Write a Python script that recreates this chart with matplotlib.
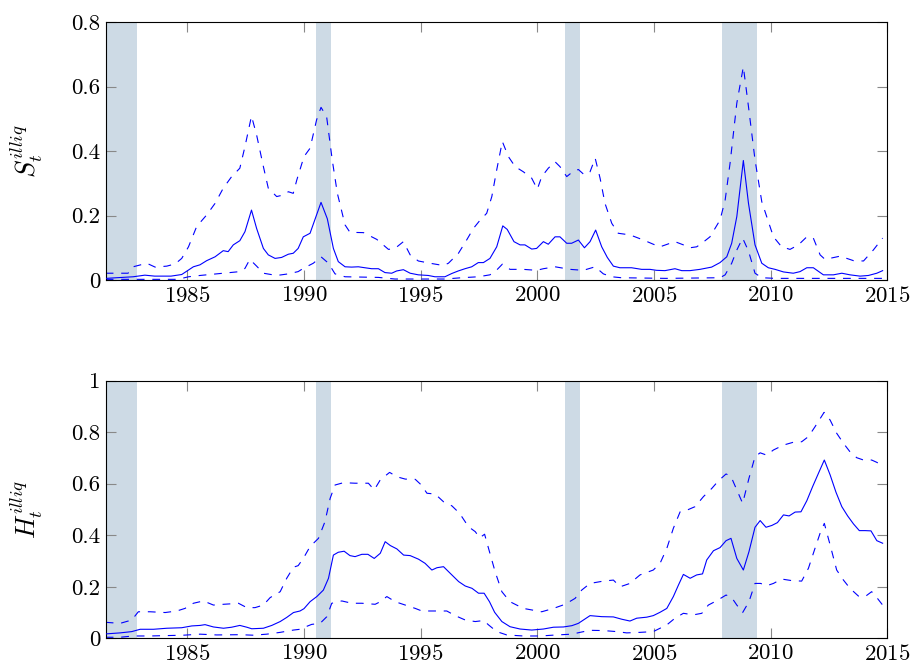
import matplotlib
matplotlib.use("Agg")
import matplotlib.pyplot as plt
from matplotlib.ticker import FuncFormatter
import numpy as np

plt.rcParams['font.family'] = 'cmr10'
plt.rcParams['mathtext.fontset'] = 'cm'
plt.rcParams['axes.formatter.use_mathtext'] = True

# NBER recessions (start, end)
recessions = [(1981.5, 1982.85), (1990.5, 1991.17), (2001.17, 2001.83), (2007.92, 2009.42)]

years = [1985, 1990, 1995, 2000, 2005, 2010, 2015]

# S_t^illiq : median and band (year, value)
s_mid = [(1981.5, 0.005), (1982.68, 0.01), (1983.18, 0.015), (1983.6, 0.012), (1984.3, 0.012),
         (1984.76, 0.017), (1985.26, 0.041), (1985.54, 0.047), (1985.83, 0.06), (1986.19, 0.072),
         (1986.54, 0.091), (1986.75, 0.088), (1986.97, 0.109), (1987.25, 0.122), (1987.47, 0.15),
         (1987.75, 0.217), (1987.97, 0.16), (1988.26, 0.098), (1988.47, 0.078), (1988.76, 0.067),
         (1989.04, 0.07), (1989.33, 0.08), (1989.54, 0.083), (1989.75, 0.098), (1989.97, 0.134),
         (1990.26, 0.145), (1990.73, 0.241), (1991.0, 0.19), (1991.26, 0.098), (1991.47, 0.057),
         (1991.76, 0.041), (1992.04, 0.04), (1992.33, 0.041), (1992.61, 0.038), (1992.9, 0.035),
         (1993.19, 0.035), (1993.47, 0.023), (1993.76, 0.021), (1993.97, 0.028), (1994.26, 0.032),
         (1994.55, 0.021), (1994.9, 0.016), (1995.33, 0.014), (1995.61, 0.01), (1996.04, 0.01),
         (1996.33, 0.02), (1996.61, 0.028), (1996.9, 0.035), (1997.19, 0.041), (1997.47, 0.054),
         (1997.69, 0.054), (1997.97, 0.067), (1998.26, 0.103), (1998.52, 0.168), (1998.71, 0.157),
         (1999.0, 0.119), (1999.26, 0.109), (1999.47, 0.109), (1999.76, 0.096), (1999.97, 0.098),
         (2000.26, 0.119), (2000.47, 0.111), (2000.76, 0.134), (2000.97, 0.134), (2001.26, 0.114),
         (2001.47, 0.114), (2001.76, 0.124), (2002.02, 0.1), (2002.26, 0.119), (2002.5, 0.155),
         (2002.76, 0.103), (2003.0, 0.07), (2003.26, 0.043), (2003.54, 0.038), (2004.04, 0.038),
         (2004.47, 0.033), (2004.83, 0.033), (2005.11, 0.03), (2005.47, 0.029), (2005.9, 0.035),
         (2006.19, 0.029), (2006.54, 0.029), (2006.97, 0.033), (2007.47, 0.04), (2007.83, 0.054),
         (2008.12, 0.072), (2008.33, 0.114), (2008.55, 0.197), (2008.83, 0.371), (2009.05, 0.238),
         (2009.33, 0.109), (2009.62, 0.052), (2009.9, 0.038), (2010.19, 0.033), (2010.55, 0.025),
         (2010.97, 0.021), (2011.26, 0.026), (2011.55, 0.038), (2011.83, 0.038), (2012.26, 0.016),
         (2012.69, 0.016), (2013.05, 0.021), (2013.4, 0.016), (2013.83, 0.012), (2014.19, 0.014),
         (2014.55, 0.021), (2014.8, 0.029)]

s_hi = [(1981.5, 0.021), (1982.46, 0.021), (1982.68, 0.041), (1983.26, 0.052), (1983.62, 0.04),
        (1984.12, 0.043), (1984.48, 0.05), (1984.76, 0.067), (1985.05, 0.103), (1985.4, 0.166),
        (1985.83, 0.202), (1986.19, 0.238), (1986.54, 0.285), (1986.9, 0.321), (1987.25, 0.347),
        (1987.47, 0.414), (1987.75, 0.509), (1987.97, 0.45), (1988.26, 0.352), (1988.47, 0.285),
        (1988.83, 0.259), (1989.12, 0.264), (1989.33, 0.274), (1989.54, 0.269), (1989.69, 0.31),
        (1990.0, 0.383), (1990.26, 0.409), (1990.54, 0.497), (1990.73, 0.536), (1990.97, 0.507),
        (1991.21, 0.373), (1991.43, 0.269), (1991.76, 0.171), (1991.97, 0.148), (1992.55, 0.147),
        (1993.12, 0.126), (1993.62, 0.095), (1993.9, 0.098), (1994.26, 0.119), (1994.55, 0.078),
        (1994.9, 0.059), (1995.4, 0.052), (1995.97, 0.045), (1996.19, 0.052), (1996.62, 0.083),
        (1996.97, 0.124), (1997.26, 0.16), (1997.55, 0.186), (1997.83, 0.207), (1998.05, 0.259),
        (1998.26, 0.342), (1998.5, 0.43), (1998.76, 0.383), (1999.05, 0.352), (1999.4, 0.336),
        (1999.76, 0.316), (2000.0, 0.282), (2000.19, 0.321), (2000.47, 0.347), (2000.76, 0.367),
        (2000.97, 0.352), (2001.26, 0.321), (2001.55, 0.338), (2001.76, 0.343), (2002.02, 0.326),
        (2002.26, 0.336), (2002.48, 0.378), (2002.69, 0.316), (2002.9, 0.238), (2003.19, 0.176),
        (2003.47, 0.145), (2003.97, 0.14), (2004.55, 0.124), (2004.97, 0.111), (2005.26, 0.103),
        (2005.69, 0.114), (2005.9, 0.119), (2006.26, 0.109), (2006.54, 0.1), (2006.83, 0.103),
        (2007.05, 0.114), (2007.4, 0.134), (2007.83, 0.186), (2008.05, 0.248), (2008.26, 0.362),
        (2008.55, 0.549), (2008.83, 0.662), (2009.05, 0.538), (2009.33, 0.373), (2009.62, 0.243),
        (2009.83, 0.197), (2010.12, 0.134), (2010.47, 0.103), (2010.83, 0.095), (2011.19, 0.109),
        (2011.55, 0.134), (2011.83, 0.13), (2012.12, 0.078), (2012.33, 0.064), (2012.98, 0.074),
        (2013.55, 0.06), (2013.98, 0.059), (2014.4, 0.093), (2014.8, 0.13)]

s_lo = [(1981.5, 0.002), (1984.6, 0.002), (1985.05, 0.01), (1985.54, 0.014), (1986.54, 0.021),
        (1987.25, 0.026), (1987.47, 0.036), (1987.68, 0.064), (1987.97, 0.043), (1988.26, 0.021),
        (1988.83, 0.014), (1989.33, 0.019), (1989.75, 0.026), (1989.97, 0.036), (1990.4, 0.052),
        (1990.73, 0.072), (1991.05, 0.052), (1991.33, 0.019), (1991.76, 0.01), (1993.19, 0.008),
        (1993.9, 0.003), (1996.04, 0.003), (1996.76, 0.007), (1997.47, 0.01), (1997.97, 0.016),
        (1998.26, 0.031), (1998.5, 0.049), (1998.83, 0.033), (1999.4, 0.033), (1999.97, 0.03),
        (2000.26, 0.035), (2000.76, 0.041), (2001.4, 0.033), (2001.97, 0.03), (2002.48, 0.041),
        (2002.83, 0.019), (2003.19, 0.01), (2003.6, 0.007), (2005.5, 0.005), (2007.83, 0.007),
        (2008.05, 0.016), (2008.33, 0.052), (2008.55, 0.093), (2008.8, 0.13), (2009.05, 0.09),
        (2009.33, 0.021), (2009.62, 0.007), (2010.2, 0.005), (2014.8, 0.005)]

# H_t^illiq : median and band (year, value)
h_mid = [(1981.5, 0.017), (1982.12, 0.021), (1982.62, 0.026), (1982.98, 0.035), (1983.55, 0.035),
         (1984.12, 0.039), (1984.76, 0.041), (1985.19, 0.048), (1985.55, 0.05), (1985.76, 0.053),
         (1986.12, 0.044), (1986.55, 0.039), (1986.9, 0.043), (1987.25, 0.05), (1987.55, 0.043),
         (1987.76, 0.037), (1988.26, 0.039), (1988.62, 0.05), (1988.98, 0.065), (1989.26, 0.081),
         (1989.55, 0.1), (1989.83, 0.106), (1990.0, 0.115), (1990.26, 0.142), (1990.55, 0.162),
         (1990.83, 0.187), (1991.05, 0.233), (1991.26, 0.323), (1991.47, 0.334), (1991.72, 0.338),
         (1991.97, 0.321), (1992.19, 0.317), (1992.48, 0.326), (1992.74, 0.326), (1993.01, 0.31),
         (1993.27, 0.33), (1993.48, 0.375), (1993.7, 0.36), (1993.98, 0.347), (1994.27, 0.323),
         (1994.55, 0.321), (1994.91, 0.307), (1995.19, 0.291), (1995.48, 0.265), (1995.7, 0.274),
         (1995.98, 0.278), (1996.27, 0.252), (1996.63, 0.22), (1996.91, 0.203), (1997.2, 0.194),
         (1997.48, 0.175), (1997.72, 0.175), (1997.95, 0.142), (1998.17, 0.101), (1998.48, 0.065),
         (1998.83, 0.045), (1999.26, 0.036), (1999.76, 0.032), (2000.26, 0.036), (2000.69, 0.043),
         (2001.12, 0.044), (2001.48, 0.049), (2001.76, 0.058), (2002.26, 0.088), (2002.76, 0.084),
         (2003.26, 0.083), (2003.62, 0.074), (2003.97, 0.067), (2004.26, 0.078), (2004.69, 0.082),
         (2004.97, 0.088), (2005.26, 0.101), (2005.55, 0.116), (2005.83, 0.162), (2006.05, 0.207),
         (2006.26, 0.248), (2006.55, 0.233), (2006.83, 0.246), (2007.08, 0.25), (2007.26, 0.304),
         (2007.55, 0.34), (2007.83, 0.352), (2008.09, 0.379), (2008.3, 0.388), (2008.55, 0.31),
         (2008.83, 0.265), (2009.07, 0.336), (2009.33, 0.431), (2009.55, 0.457), (2009.8, 0.431),
         (2010.05, 0.438), (2010.29, 0.449), (2010.55, 0.479), (2010.79, 0.475), (2011.05, 0.49),
         (2011.3, 0.491), (2011.55, 0.534), (2011.8, 0.589), (2012.08, 0.647), (2012.3, 0.692),
         (2012.55, 0.634), (2012.8, 0.567), (2013.05, 0.511), (2013.3, 0.475), (2013.55, 0.444),
         (2013.8, 0.418), (2014.05, 0.418), (2014.3, 0.417), (2014.55, 0.379), (2014.8, 0.369)]

h_hi = [(1981.5, 0.062), (1982.12, 0.058), (1982.62, 0.071), (1982.9, 0.103), (1983.4, 0.103),
        (1984.05, 0.1), (1984.55, 0.106), (1984.9, 0.116), (1985.26, 0.136), (1985.69, 0.145),
        (1986.12, 0.129), (1986.55, 0.132), (1986.9, 0.134), (1987.19, 0.136), (1987.55, 0.119),
        (1987.9, 0.119), (1988.26, 0.129), (1988.55, 0.158), (1988.98, 0.181), (1989.26, 0.233),
        (1989.55, 0.276), (1989.75, 0.282), (1989.97, 0.31), (1990.26, 0.356), (1990.62, 0.388),
        (1990.9, 0.453), (1991.12, 0.543), (1991.33, 0.595), (1991.69, 0.604), (1992.19, 0.602),
        (1992.76, 0.602), (1993.01, 0.576), (1993.27, 0.615), (1993.67, 0.644), (1993.98, 0.627),
        (1994.34, 0.618), (1994.77, 0.617), (1995.03, 0.595), (1995.27, 0.563), (1995.62, 0.56),
        (1995.98, 0.53), (1996.34, 0.514), (1996.67, 0.485), (1997.05, 0.433), (1997.34, 0.414),
        (1997.53, 0.39), (1997.74, 0.404), (1997.95, 0.336), (1998.19, 0.259), (1998.48, 0.181),
        (1998.83, 0.142), (1999.4, 0.116), (2000.19, 0.103), (2000.69, 0.116), (2001.19, 0.132),
        (2001.62, 0.155), (2001.9, 0.187), (2002.26, 0.213), (2002.83, 0.222), (2003.26, 0.226),
        (2003.55, 0.2), (2003.97, 0.213), (2004.4, 0.246), (2004.97, 0.265), (2005.26, 0.291),
        (2005.55, 0.349), (2005.83, 0.427), (2006.12, 0.491), (2006.4, 0.497), (2006.76, 0.511),
        (2007.12, 0.55), (2007.48, 0.582), (2007.76, 0.611), (2008.09, 0.638), (2008.3, 0.628),
        (2008.55, 0.576), (2008.8, 0.524), (2009.07, 0.621), (2009.33, 0.705), (2009.55, 0.72),
        (2009.83, 0.711), (2010.12, 0.731), (2010.55, 0.75), (2010.97, 0.761), (2011.33, 0.763),
        (2011.62, 0.783), (2011.9, 0.821), (2012.29, 0.877), (2012.55, 0.847), (2012.83, 0.796),
        (2013.12, 0.757), (2013.4, 0.724), (2013.69, 0.701), (2013.98, 0.692), (2014.33, 0.692),
        (2014.55, 0.683), (2014.8, 0.67)]

h_lo = [(1981.5, 0.004), (1982.12, 0.004), (1982.68, 0.009), (1983.4, 0.009), (1984.83, 0.012),
        (1985.55, 0.016), (1986.26, 0.013), (1987.25, 0.014), (1987.83, 0.012), (1988.4, 0.016),
        (1988.98, 0.023), (1989.55, 0.032), (1989.83, 0.035), (1989.97, 0.041), (1990.33, 0.054),
        (1990.69, 0.058), (1990.98, 0.084), (1991.19, 0.136), (1991.62, 0.145), (1992.05, 0.136),
        (1992.48, 0.136), (1993.05, 0.132), (1993.27, 0.142), (1993.55, 0.162), (1993.91, 0.142),
        (1994.34, 0.129), (1994.77, 0.116), (1995.05, 0.106), (1995.62, 0.106), (1996.12, 0.106),
        (1996.48, 0.088), (1996.91, 0.071), (1997.34, 0.065), (1997.7, 0.069), (1997.91, 0.052),
        (1998.26, 0.026), (1998.69, 0.013), (1999.4, 0.009), (2000.12, 0.009), (2000.83, 0.013),
        (2001.48, 0.016), (2001.83, 0.023), (2002.26, 0.031), (2002.83, 0.03), (2003.4, 0.026),
        (2003.83, 0.021), (2004.4, 0.023), (2004.97, 0.026), (2005.26, 0.039), (2005.55, 0.052),
        (2005.9, 0.078), (2006.26, 0.097), (2006.69, 0.091), (2007.05, 0.097), (2007.33, 0.129),
        (2007.69, 0.146), (2008.09, 0.168), (2008.33, 0.158), (2008.55, 0.129), (2008.8, 0.1),
        (2009.07, 0.142), (2009.33, 0.213), (2009.57, 0.213), (2009.83, 0.204), (2010.12, 0.213),
        (2010.47, 0.23), (2010.9, 0.224), (2011.33, 0.222), (2011.62, 0.272), (2011.9, 0.349),
        (2012.12, 0.408), (2012.3, 0.446), (2012.55, 0.362), (2012.83, 0.265), (2013.12, 0.226),
        (2013.4, 0.194), (2013.76, 0.164), (2014.05, 0.162), (2014.33, 0.181), (2014.55, 0.158),
        (2014.8, 0.129)]


def fmt(v, pos):
    return '%g' % round(v, 2)


def draw_panel(ax, mid, hi, lo, ymax, yticks, label):
    for a, b in recessions:
        ax.axvspan(a, b, color='#cddae5', lw=0, zorder=0)
    for series, style in ((hi, 'dashed'), (lo, 'dashed'), (mid, 'solid')):
        x, y = zip(*series)
        if style == 'dashed':
            ax.plot(x, y, color='blue', lw=0.8, dashes=(7, 7), zorder=2)
        else:
            ax.plot(x, y, color='blue', lw=0.8, zorder=3)
    ax.set_xlim(1981.5, 2015)
    ax.set_ylim(0, ymax)
    ax.set_xticks(years)
    ax.set_yticks(yticks)
    ax.yaxis.set_major_formatter(FuncFormatter(fmt))
    ax.tick_params(direction='in', length=7, width=0.8, color='#888888',
                   top=True, right=True, labelsize=16.5, pad=4)
    for sp in ax.spines.values():
        sp.set_linewidth(0.8)
    ax.set_ylabel(label, fontsize=19)
    ax.yaxis.set_label_coords(-0.078, 0.5)


fig = plt.figure(figsize=(9.14, 6.66), dpi=100)
ax1 = fig.add_axes([0.1156, 0.5796, 0.8552, 0.3869])
ax2 = fig.add_axes([0.1156, 0.0416, 0.8552, 0.3868])

draw_panel(ax1, s_mid, s_hi, s_lo, 0.8, [0, 0.2, 0.4, 0.6, 0.8], r'$S_t^{illiq}$')
draw_panel(ax2, h_mid, h_hi, h_lo, 1.0, [0, 0.2, 0.4, 0.6, 0.8, 1.0], r'$H_t^{illiq}$')

fig.savefig('out.png', dpi=100)
